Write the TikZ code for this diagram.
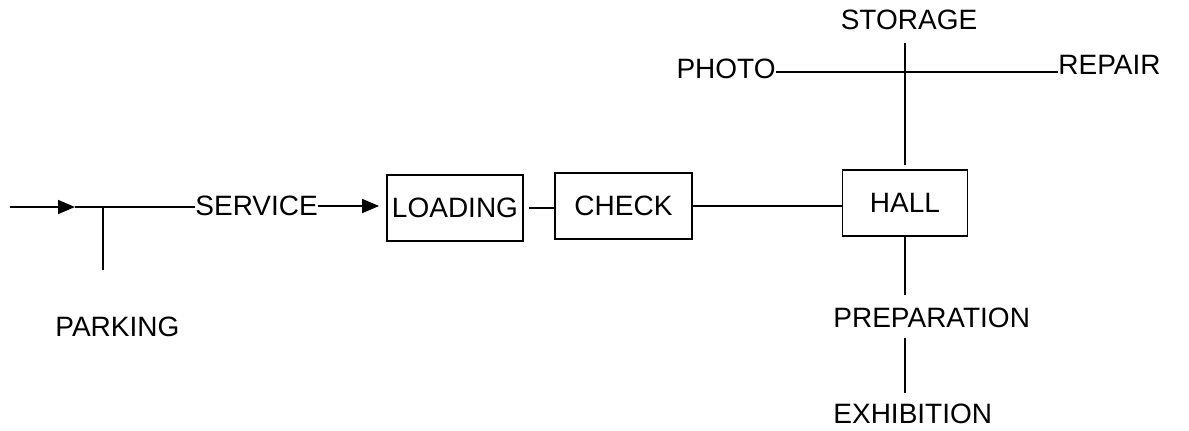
\documentclass[tikz,border=0pt]{standalone}
\usepackage{fontspec}
\setmainfont{Liberation Sans}
\usetikzlibrary{arrows.meta}
\tikzset{
  lbl/.style={inner sep=0pt, font=\fontsize{14}{16}\selectfont},
  stage/.style={draw, line width=0.9pt, minimum height=33pt, inner sep=0pt,
    font=\fontsize{14}{16}\selectfont},
  link/.style={line width=0.85pt},
  flow/.style={link, -{Triangle[length=8.5pt,width=7pt]}}
}
\begin{document}
\begin{tikzpicture}[x=0.5pt,y=-0.5pt]
\useasboundingbox (0,0) rectangle (1189,430);

% entry and parking branch
\coordinate (in) at (10,207);
\coordinate (tip) at (75,207);
\coordinate (j) at (103,207);
\node[lbl, anchor=west] (parking) at (55,327) {PARKING};
\node[lbl, anchor=west] (service) at (195,206) {SERVICE};

% main row of stages
\node[stage, minimum width=68pt] (loading) at (455,208) {LOADING};
\node[stage, minimum width=68.5pt] (check) at (623.5,206) {CHECK};
\node[stage, minimum width=62.5pt] (hall) at (905,203) {HALL};

% destinations around the hall
\node[lbl] (storage) at (909,20) {STORAGE};
\node[lbl, anchor=east] (photo) at (776,69) {PHOTO};
\node[lbl, anchor=west] (repair) at (1058,65) {REPAIR};
\node[lbl, anchor=west] (prep) at (833,318) {PREPARATION};
\node[lbl, anchor=west] (exhib) at (833,414) {EXHIBITION};

% connectors
\draw[flow] (in) -- (tip);
\draw[link] (tip) -- (j) -- (j -| service.west);
\draw[link, shorten >=23.5pt] (j) -- (j |- parking.north);
\draw[flow, shorten >=3.5pt] (service.east) -- (service.east -| loading.west);
\draw[link, shorten <=2.5pt] (loading.east) -- (loading.east -| check.west);
\draw[link] (check.east) -- (check.east -| hall.west);
\draw[link, shorten <=2pt, shorten >=6.5pt] (hall.north) -- (hall.north |- storage.south);
\draw[link] (photo.east |- 0,72) -- (repair.west |- 0,72);
\draw[link, shorten >=6.5pt] (hall.south) -- (hall.south |- prep.north);
\draw[link, shorten <=5pt, shorten >=5.5pt] (hall.south |- prep.south) -- (hall.south |- exhib.north);
\end{tikzpicture}
\end{document}
